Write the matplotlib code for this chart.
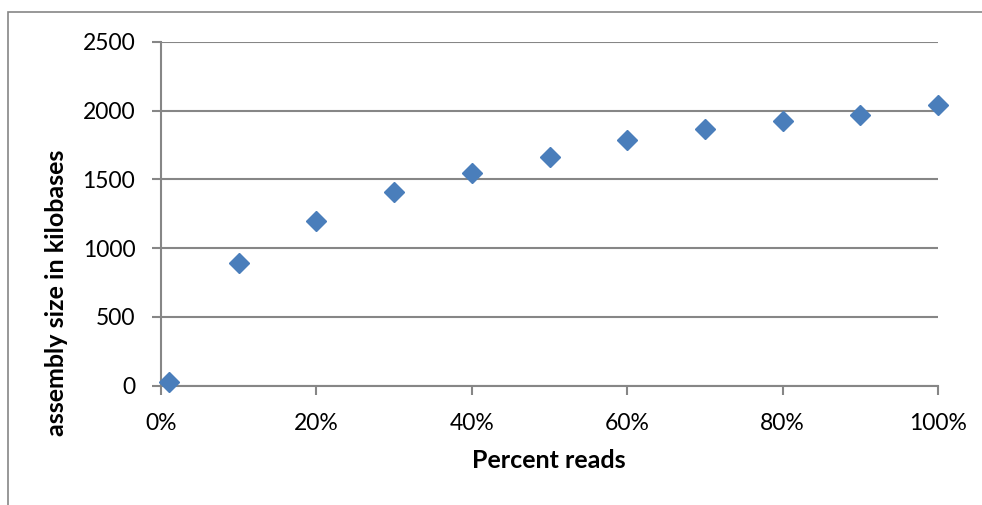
import matplotlib.pyplot as plt
from matplotlib.patches import Rectangle
from matplotlib.ticker import PercentFormatter

# data
percent_reads = [0.01, 0.10, 0.20, 0.30, 0.40, 0.50, 0.60, 0.70, 0.80, 0.90, 1.00]
assembly_kb = [25, 889, 1197, 1405, 1547, 1663, 1787, 1867, 1925, 1968, 2040]

y_ticks = [0, 500, 1000, 1500, 2000, 2500]
x_ticks = [0, 0.2, 0.4, 0.6, 0.8, 1.0]

plt.rcParams['font.family'] = ['Lato', 'DejaVu Sans']
grey = '#868686'
W, H = 982, 505

fig = plt.figure(figsize=(W / 100, H / 100), dpi=100)
ax = fig.add_axes([161 / W, 1 - 385.5 / H, 777 / W, 343.5 / H])

# outer chart frame
fig.patches.append(Rectangle((8 / W, -0.2), 2, 1.2 - 12 / H, transform=fig.transFigure,
                             fill=False, edgecolor=grey, linewidth=1.2))

ax.plot(percent_reads, assembly_kb, linestyle='none', marker='D', markersize=10.5,
        color='#4A7EBB', markeredgecolor='#4A7EBB', clip_on=False, zorder=3)

ax.set_xlim(0, 1)
ax.set_ylim(0, 2500)
ax.set_xticks(x_ticks)
ax.set_yticks(y_ticks)
ax.xaxis.set_major_formatter(PercentFormatter(1.0, decimals=0))

ax.grid(axis='y', color=grey, linewidth=1.5)
ax.set_axisbelow(True)
for s in ['top', 'right']:
    ax.spines[s].set_visible(False)
for s in ['left', 'bottom']:
    ax.spines[s].set_color(grey)
    ax.spines[s].set_linewidth(1.5)
ax.tick_params(axis='both', direction='out', length=6.5, width=1.5, color=grey,
               labelsize=16.5)
ax.tick_params(axis='x', pad=13.5)
ax.tick_params(axis='y', pad=12)

# axis titles placed like the original (Excel offsets them a bit)
fig.text(549 / W, 1 - 461 / H, 'Percent reads', fontsize=18, fontweight='bold',
         ha='center', va='center')
fig.text(56 / W, 1 - 293 / H, 'assembly size in kilobases', fontsize=18, fontweight='bold',
         ha='center', va='center', rotation=90)

fig.savefig('out.png', dpi=100)
